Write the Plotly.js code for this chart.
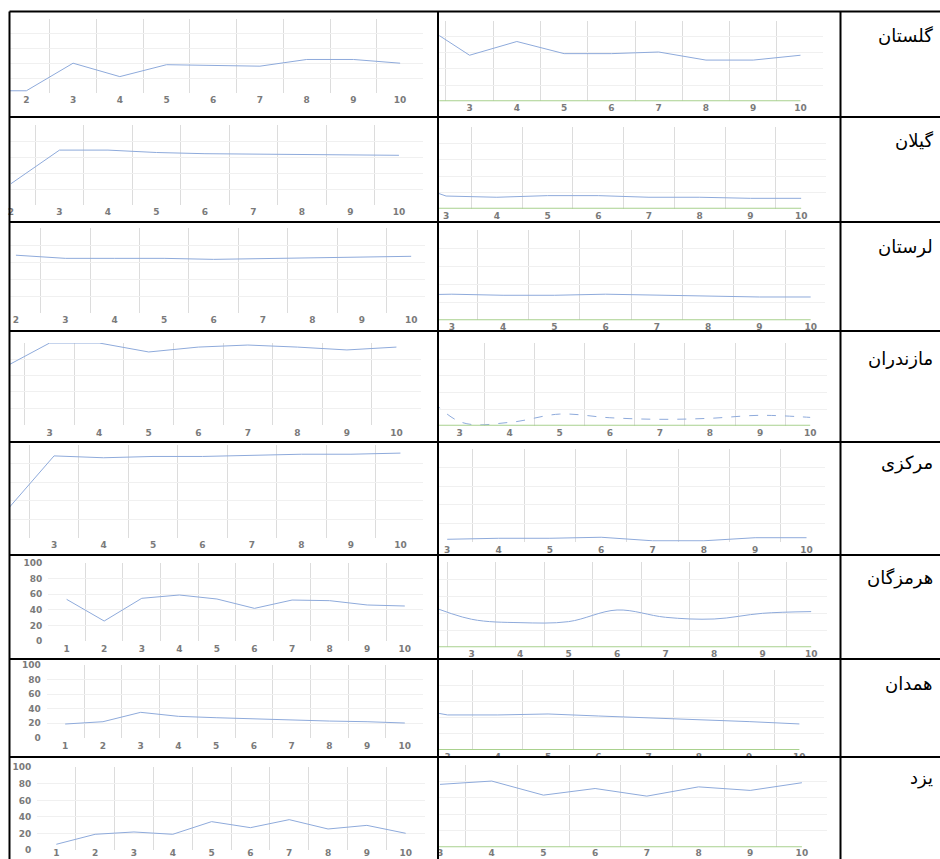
<!DOCTYPE html>
<html><head><meta charset="utf-8">
<script src="https://cdn.plot.ly/plotly-3.0.1.min.js"></script>
<style>html,body{margin:0;padding:0;background:#fff}#chart{width:940px;height:859px}</style>
</head><body><div id="chart"></div>
<script>
// ---------- data ----------
const categories = ['1','2','3','4','5','6','7','8','9','10'];
const provinces = ['گلستان','گیلان','لرستان','مازندران','مرکزی','هرمزگان','همدان','یزد'];
const yTickValues = [0,20,40,60,80,100];
const yTickLabels = ['0','20','40','60','80','100'];

const golestanLeft    = [3, 3, 40, 22, 38, 37, 36, 45, 45, 40];
const golestanRight   = [null, 95, 57, 74, 59, 59, 61, 51, 51, 57];
const gilanLeft       = [null, 27, 69, 69, 66, 64.5, 64, 64, 63, 62.5];
const gilanRight      = [null, 37, 15.5, 14, 16, 16, 14, 14, 12.7, 12.7];
const lorestanLeft    = [null, 68, 64.3, 64.3, 64.3, 63.1, 64, 65, 65.5, 66.7];
const lorestanRight   = [null, 28, 29, 27.8, 27.8, 29, 27.8, 26.7, 25.9, 25.9];
const mazandaranLeft  = [null, 67.5, 100, 100, 89, 95, 97.5, 95, 91.5, 95];
const mazandaranRight = [null, 61, 5, 4, 14, 9.6, 7.7, 8.9, 12.5, 10];
const markaziLeft     = [null, 27, 88, 86, 87.4, 87.4, 88.8, 89.8, 89.8, 91];
const markaziRight    = [null, null, 2.6, 3.7, 3.7, 4.8, 1, 1, 4.3, 4.3];
const hormozganLeft   = [53.4, 25.8, 54.7, 58.9, 53.8, 41.9, 52.5, 51.7, 46.2, 44.9];
const hormozganRight  = [null, 52, 33, 29, 30.2, 43.9, 35.3, 33.3, 40, 42];
const hamedanLeft     = [18.8, 22, 34.9, 29.4, 27.5, 25.7, 24.3, 22.9, 22, 20.2];
const hamedanRight    = [null, 55, 43.6, 43.6, 44.8, 42.3, 40.2, 38.2, 35.3, 32.4];
const yazdLeft        = [6.9, 19, 21.8, 19, 34.3, 27, 36.7, 25.4, 29.8, 20.2];
const yazdRight       = [null, null, 76, 80, 63, 71, 61.8, 73, 68.7, 78];
const zeroSeries      = [0, 0, 0, 0, 0, 0, 0, 0, 0, 0];

const leftSeries  = [golestanLeft, gilanLeft, lorestanLeft, mazandaranLeft, markaziLeft, hormozganLeft, hamedanLeft, yazdLeft];
const rightSeries = [golestanRight, gilanRight, lorestanRight, mazandaranRight, markaziRight, hormozganRight, hamedanRight, yazdRight];

// ---------- layout geometry (pixels) ----------
const W = 940, H = 859;
const fx = p => p / W;
const fy = p => 1 - p / H;

const leftCells = [
  {x:[10,423],    y:[18.5,93],    r:[1.65,10.49], showY:false, lab:0},
  {x:[10,422.7],  y:[125.3,205.3],r:[1.98,10.49], showY:false, lab:0},
  {x:[10,425],    y:[228,313],    r:[1.88,10.28], showY:false, lab:0},
  {x:[10,420.7],  y:[343,424.6],  r:[2.2,10.49],  showY:false, lab:1},
  {x:[10,422.7],  y:[444.7,538],  r:[2.11,10.45], showY:false, lab:0},
  {x:[48.2,423.2],y:[562.7,641.3],r:[0.51,10.49], showY:true,  lab:1},
  {x:[46.7,423.3],y:[665,737.7],  r:[0.51,10.49], showY:true,  lab:1},
  {x:[37.3,424.7],y:[767.3,850],  r:[0.51,10.49], showY:true,  lab:-4}
];
const midCells = [
  {x:[439.3,822.7],y:[20.5,101.3], r:[2.36,10.47], zero:true,  spline:false, dash:'solid', lab:0},
  {x:[439,826],    y:[127,208.7],  r:[2.86,10.49], zero:true,  spline:false, dash:'solid', lab:0},
  {x:[439,825],    y:[230.3,320.3],r:[2.75,10.28], zero:true,  spline:false, dash:'solid', lab:0},
  {x:[439,826.7],  y:[342.7,425.7],r:[2.59,10.33], zero:true,  spline:true,  dash:'dash',  lab:0},
  {x:[439,825],    y:[449,541.7],  r:[2.84,10.36], zero:false, spline:false, dash:'solid', lab:1},
  {x:[439,826.7],  y:[562.3,647.3],r:[2.33,10.32], zero:true,  spline:true,  dash:'solid', lab:0},
  {x:[439,824],    y:[669.6,750],  r:[2.83,10.49], zero:true,  spline:false, dash:'solid', lab:0},
  {x:[439,826.7],  y:[764.5,847.3],r:[2.98,10.48], zero:true,  spline:false, dash:'solid', lab:-1}
];
const rowLabelY = [35, 140, 246.7, 358.3, 463.3, 578.3, 683.3, 778.3];
const hLines = [11.5, 117, 222, 331, 442, 555, 659, 757];
const vLines = [9.5, 438, 840.5];

const lineBlue = '#8eaadb';
const lineGreen = '#a9d18e';
const tickFont = {family:'DejaVu Sans', size:9, color:'#7a7a7a', weight:'bold'};

const traces = [];
const layout = {
  width: W, height: H,
  margin: {l:0, r:0, t:0, b:0},
  paper_bgcolor: '#ffffff', plot_bgcolor: 'rgba(0,0,0,0)',
  showlegend: false,
  shapes: [], annotations: []
};

let n = 0;
function addCell(cell, series, opts) {
  n += 1;
  const xa = n === 1 ? 'xaxis' : 'xaxis' + n;
  const ya = n === 1 ? 'yaxis' : 'yaxis' + n;
  const xr = n === 1 ? 'x' : 'x' + n;
  const yr = n === 1 ? 'y' : 'y' + n;
  layout[xa] = {
    type: 'category', categoryorder: 'array', categoryarray: categories,
    domain: [fx(cell.x[0]), fx(cell.x[1])],
    range: [cell.r[0] - 1, cell.r[1] - 1],
    anchor: yr, tickson: 'boundaries',
    showgrid: true, gridcolor: '#dcdcdc', gridwidth: 1,
    zeroline: false, showline: false, ticks: '',
    ticklabelstandoff: cell.lab || 0,
    tickfont: tickFont, fixedrange: true, automargin: false
  };
  layout[ya] = {
    domain: [fy(cell.y[1]), fy(cell.y[0])],
    range: [0, 100], anchor: xr,
    tickmode: 'array', tickvals: yTickValues, ticktext: yTickLabels,
    showgrid: true, gridcolor: '#f0f0f0', gridwidth: 1,
    zeroline: false, showline: false, ticks: '',
    showticklabels: !!cell.showY, ticklabelstandoff: 5,
    tickfont: tickFont, fixedrange: true, automargin: false
  };
  traces.push({
    type: 'scatter', mode: 'lines', x: categories, y: series,
    xaxis: xr, yaxis: yr, hoverinfo: 'skip', connectgaps: false,
    line: {color: lineBlue, width: 1, shape: opts.spline ? 'spline' : 'linear', dash: opts.dash || 'solid'}
  });
  if (opts.zero) {
    traces.push({
      type: 'scatter', mode: 'lines', x: categories, y: zeroSeries,
      xaxis: xr, yaxis: yr, hoverinfo: 'skip',
      line: {color: lineGreen, width: 2}
    });
  }
}

for (let i = 0; i < 8; i++) {
  addCell(leftCells[i], leftSeries[i], {});
  addCell(midCells[i], rightSeries[i], midCells[i]);
  layout.annotations.push({
    xref: 'paper', yref: 'paper', x: fx(935), y: fy(rowLabelY[i]),
    xanchor: 'right', yanchor: 'middle', showarrow: false,
    text: provinces[i], font: {family: 'DejaVu Sans', size: 18, color: '#000'}
  });
}

// white strip clipping the half-hidden tick labels of the همدان chart
layout.shapes.push({type:'rect', xref:'paper', yref:'paper', layer:'above',
  x0: fx(439), x1: fx(838), y0: fy(762), y1: fy(757.5),
  fillcolor:'#ffffff', line:{width:0}});

// table borders
hLines.forEach(y => layout.shapes.push({type:'line', xref:'paper', yref:'paper', layer:'above',
  x0: fx(vLines[0]), x1: 1, y0: fy(y), y1: fy(y), line:{color:'#000', width:2}}));
vLines.forEach(x => layout.shapes.push({type:'line', xref:'paper', yref:'paper', layer:'above',
  x0: fx(x), x1: fx(x), y0: fy(hLines[0]), y1: 0, line:{color:'#000', width:2}}));

Plotly.newPlot('chart', traces, layout, {staticPlot: true, displayModeBar: false});
</script>
</body></html>
